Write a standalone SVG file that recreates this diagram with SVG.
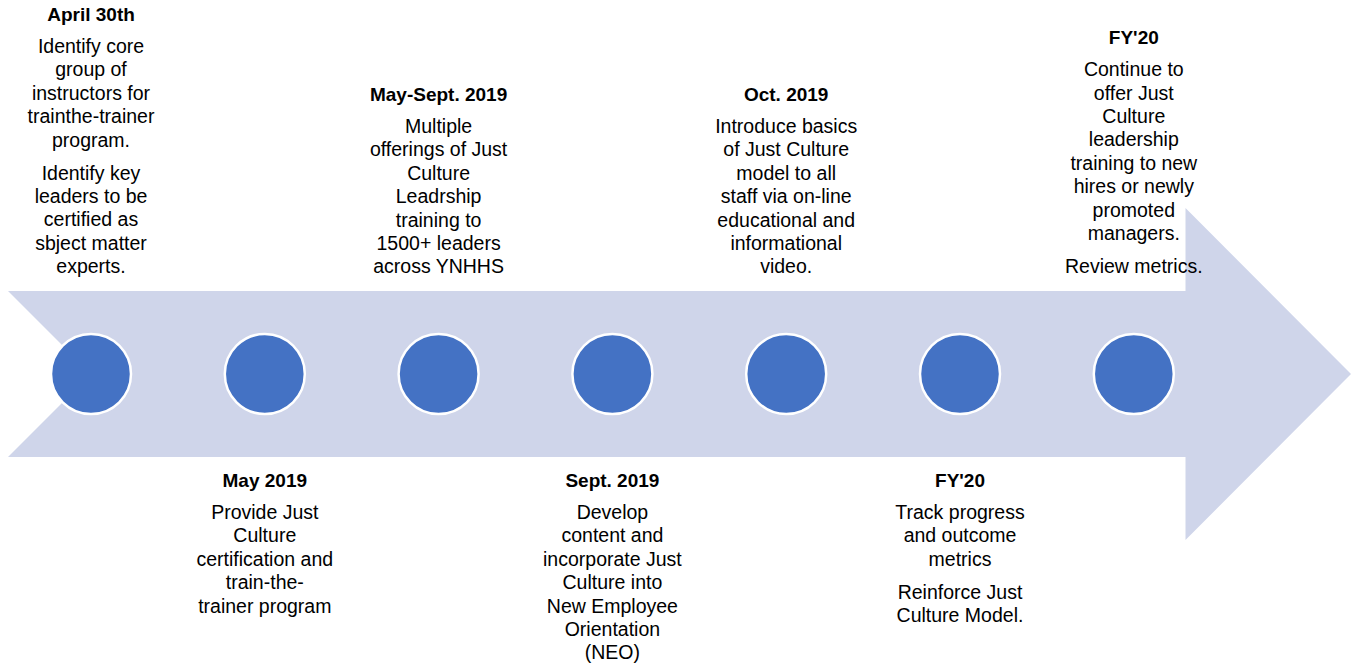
<svg xmlns="http://www.w3.org/2000/svg" width="1351" height="666" viewBox="0 0 1351 666">
<style>
.arrow{fill:#CFD5EA;stroke:none}
.dot{fill:#4472C4;stroke:#FFFFFF;stroke-width:2.5}
text{font-family:"Liberation Sans",Arial,sans-serif;fill:#000000;text-anchor:middle}
.t{font-size:19px;font-weight:bold}
.b{font-size:19.5px}
</style>
<rect width="1351" height="666" fill="#FFFFFF"/>
<g id="connectors">
<path id="timeline-arrow" class="arrow" d="M8,291 L1185.5,291 L1185.5,208 L1351,374 L1185.5,540 L1185.5,457 L8,457 L91,374 Z"/>
</g>
<g id="node1">
<circle class="dot" cx="91" cy="374" r="40"/>
<text class="t" x="91" y="21">April 30th</text>
<text class="b" x="91"><tspan x="91" y="53">Identify core</tspan><tspan x="91" y="76.4">group of</tspan><tspan x="91" y="99.8">instructors for</tspan><tspan x="91" y="123.2">trainthe-trainer</tspan><tspan x="91" y="146.6">program.</tspan><tspan x="91" y="179.6">Identify key</tspan><tspan x="91" y="203">leaders to be</tspan><tspan x="91" y="226.4">certified as</tspan><tspan x="91" y="249.8">sbject matter</tspan><tspan x="91" y="273.2">experts.</tspan></text>
</g>
<g id="node2">
<circle class="dot" cx="264.8" cy="374" r="40"/>
<text class="t" x="264.8" y="487">May 2019</text>
<text class="b" x="264.8"><tspan x="264.8" y="519">Provide Just</tspan><tspan x="264.8" y="542.4">Culture</tspan><tspan x="264.8" y="565.8">certification and</tspan><tspan x="264.8" y="589.2">train-the-</tspan><tspan x="264.8" y="612.6">trainer program</tspan></text>
</g>
<g id="node3">
<circle class="dot" cx="438.6" cy="374" r="40"/>
<text class="t" x="438.6" y="101">May-Sept. 2019</text>
<text class="b" x="438.6"><tspan x="438.6" y="133">Multiple</tspan><tspan x="438.6" y="156.4">offerings of Just</tspan><tspan x="438.6" y="179.8">Culture</tspan><tspan x="438.6" y="203.2">Leadrship</tspan><tspan x="438.6" y="226.6">training to</tspan><tspan x="438.6" y="250">1500+ leaders</tspan><tspan x="438.6" y="273.4">across YNHHS</tspan></text>
</g>
<g id="node4">
<circle class="dot" cx="612.4" cy="374" r="40"/>
<text class="t" x="612.4" y="487">Sept. 2019</text>
<text class="b" x="612.4"><tspan x="612.4" y="519">Develop</tspan><tspan x="612.4" y="542.4">content and</tspan><tspan x="612.4" y="565.8">incorporate Just</tspan><tspan x="612.4" y="589.2">Culture into</tspan><tspan x="612.4" y="612.6">New Employee</tspan><tspan x="612.4" y="636">Orientation</tspan><tspan x="612.4" y="659.4">(NEO)</tspan></text>
</g>
<g id="node5">
<circle class="dot" cx="786.2" cy="374" r="40"/>
<text class="t" x="786.2" y="101">Oct. 2019</text>
<text class="b" x="786.2"><tspan x="786.2" y="133">Introduce basics</tspan><tspan x="786.2" y="156.4">of Just Culture</tspan><tspan x="786.2" y="179.8">model to all</tspan><tspan x="786.2" y="203.2">staff via on-line</tspan><tspan x="786.2" y="226.6">educational and</tspan><tspan x="786.2" y="250">informational</tspan><tspan x="786.2" y="273.4">video.</tspan></text>
</g>
<g id="node6">
<circle class="dot" cx="960" cy="374" r="40"/>
<text class="t" x="960" y="487">FY'20</text>
<text class="b" x="960"><tspan x="960" y="519">Track progress</tspan><tspan x="960" y="542.4">and outcome</tspan><tspan x="960" y="565.8">metrics</tspan><tspan x="960" y="598.6">Reinforce Just</tspan><tspan x="960" y="622">Culture Model.</tspan></text>
</g>
<g id="node7">
<circle class="dot" cx="1133.8" cy="374" r="40"/>
<text class="t" x="1133.8" y="44">FY'20</text>
<text class="b" x="1133.8"><tspan x="1133.8" y="76.2">Continue to</tspan><tspan x="1133.8" y="99.6">offer Just</tspan><tspan x="1133.8" y="123">Culture</tspan><tspan x="1133.8" y="146.4">leadership</tspan><tspan x="1133.8" y="169.8">training to new</tspan><tspan x="1133.8" y="193.2">hires or newly</tspan><tspan x="1133.8" y="216.6">promoted</tspan><tspan x="1133.8" y="240">managers.</tspan><tspan x="1133.8" y="273">Review metrics.</tspan></text>
</g>
</svg>
